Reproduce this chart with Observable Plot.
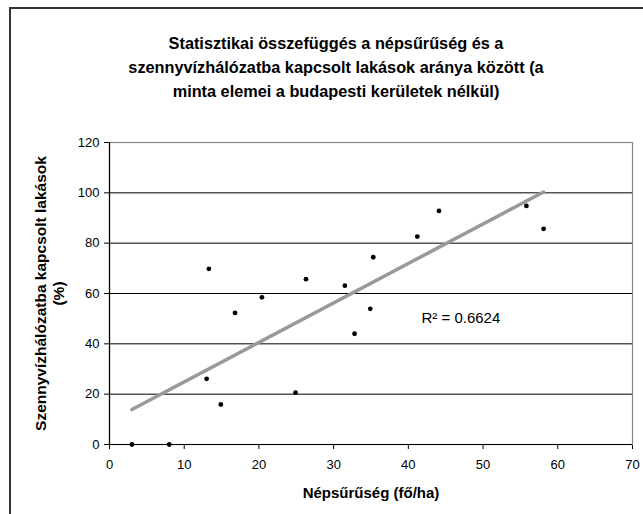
<!DOCTYPE html>
<html>
<head>
<meta charset="utf-8">
<script src="https://cdn.jsdelivr.net/npm/d3@7"></script>
<script src="https://cdn.jsdelivr.net/npm/@observablehq/plot@0.6"></script>
<style>
  html, body { margin: 0; padding: 0; background: #fff; }
  body { width: 643px; height: 514px; overflow: hidden; position: relative; font-family: "Liberation Sans", Arial, sans-serif; }
  #frame { position: absolute; left: 9px; top: 7px; width: 700px; height: 600px; border: 2px solid #333; box-sizing: border-box; }
  #title { position: absolute; left: 0; top: 31px; width: 672px; text-align: center; font-weight: bold; font-size: 16.3px; line-height: 24px; color: #000; }
  #chart { position: absolute; left: 0; top: 120px; }
</style>
</head>
<body>
<div id="frame"></div>
<div id="title">Statisztikai összefüggés a népsűrűség és a<br>szennyvízhálózatba kapcsolt lakások aránya között (a<br>minta elemei a budapesti kerületek nélkül)</div>
<div id="chart"></div>
<script>
// Népsűrűség (fő/ha)
const density = [3, 8, 13.3, 16.8, 20.4, 26.3, 31.5, 35.3, 34.9, 32.8, 13.0, 14.9, 24.9, 41.2, 44.1, 55.8, 58.1];
// Szennyvízhálózatba kapcsolt lakások (%)
const connected = [0, 0, 69.8, 52.3, 58.5, 65.7, 63.1, 74.4, 53.9, 44.0, 26.1, 15.9, 20.6, 82.6, 92.8, 94.8, 85.7];
const xTicks = [0, 10, 20, 30, 40, 50, 60, 70];
const yTicks = [0, 20, 40, 60, 80, 100, 120];
const gridValues = [20, 40, 60, 80, 100];
const xTitle = "Népsűrűség (fő/ha)";
const yTitle = "Szennyvízhálózatba kapcsolt lakások\n(%)";
const rLabel = "R² = 0.6624";

const data = density.map((d, i) => ({x: d, y: connected[i]}));

const chart = Plot.plot({
  width: 643,
  height: 394,
  marginTop: 22,
  marginBottom: 70,
  marginLeft: 109,
  marginRight: 11,
  style: {fontFamily: "'Liberation Sans', Arial, sans-serif", fontSize: "13px", color: "#000", background: "transparent", overflow: "visible"},
  x: {domain: [0, 70], ticks: xTicks, label: null, tickSize: 5, tickPadding: 10},
  y: {domain: [0, 120], ticks: yTicks, label: null, tickSize: 5, tickPadding: 5},
  marks: [
    Plot.frame({stroke: "#888", strokeWidth: 1.2}),
    Plot.ruleY(gridValues, {stroke: "#000", strokeWidth: 1}),
    Plot.ruleX([0], {stroke: "#000", strokeWidth: 1.2}),
    Plot.ruleY([0], {stroke: "#000", strokeWidth: 1.2}),
    Plot.linearRegressionY(data, {x: "x", y: "y", ci: 0, stroke: "#999", strokeWidth: 3.5}),
    Plot.dot(data, {x: "x", y: "y", r: 2.4, fill: "#000", stroke: null}),
    Plot.text([rLabel], {frameAnchor: "top-left", dx: 312, dy: 176, textAnchor: "start", lineAnchor: "middle", fontSize: 15, fill: "#000"}),
    Plot.text([xTitle], {frameAnchor: "bottom", dy: 49, textAnchor: "middle", lineAnchor: "middle", fontWeight: "bold", fontSize: 15, fill: "#000"}),
    Plot.text([yTitle], {frameAnchor: "left", dx: -60, rotate: -90, textAnchor: "middle", lineAnchor: "middle", fontWeight: "bold", fontSize: 15.5, lineHeight: 1.16, fill: "#000"})
  ]
});
document.getElementById("chart").appendChild(chart);
</script>
</body>
</html>
